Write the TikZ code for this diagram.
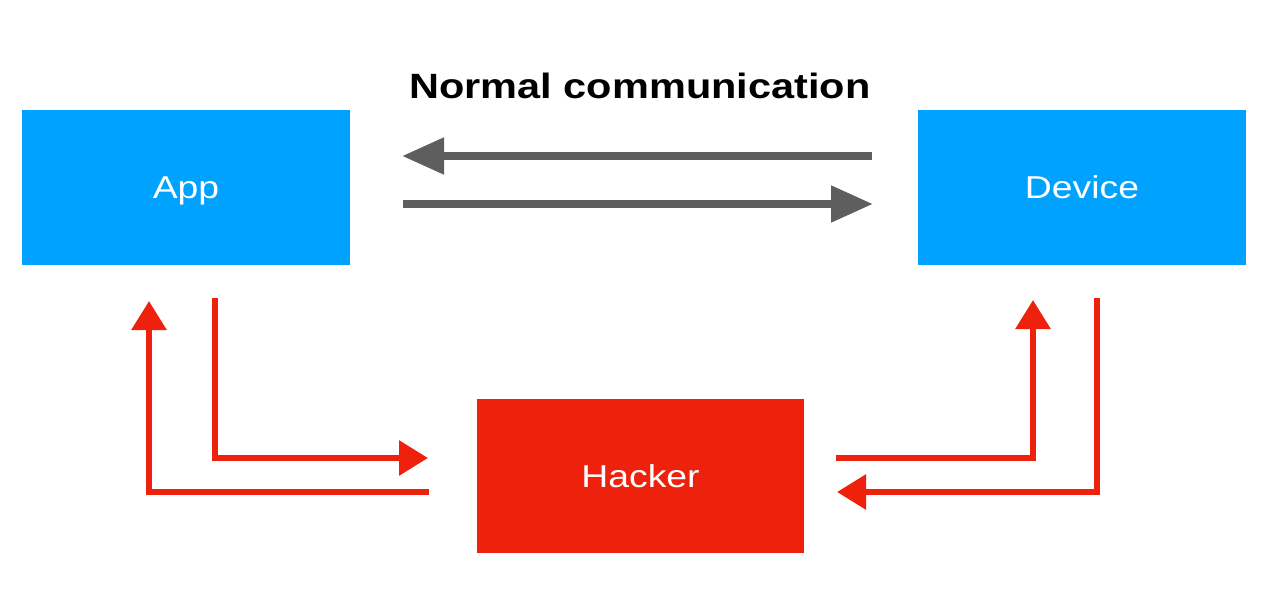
\documentclass[tikz,border=0pt]{standalone}
\usepackage{fontspec}
\setmainfont{Liberation Sans}
\newfontfamily\widesans[FakeStretch=1.18]{Liberation Sans}
\usetikzlibrary{arrows.meta}

\definecolor{appblue}{RGB}{0,162,255}
\definecolor{alarmred}{RGB}{238,34,12}
\definecolor{arrowgray}{RGB}{94,94,94}

\begin{document}
\begin{tikzpicture}[
    hostbox/.style={rectangle, fill=appblue, minimum width=3.28cm, minimum height=1.55cm, text=white, text height=6.4pt, text depth=0pt, font=\widesans\fontsize{9}{11}\selectfont},
    attacker/.style={hostbox, fill=alarmred, minimum width=3.27cm, minimum height=1.54cm},
    normalpath/.style={-{Triangle[length=4.2mm, width=3.5mm]}, arrowgray, line width=2.3pt},
    hackpath/.style={-{Triangle[length=2.9mm, width=3.4mm]}, alarmred, line width=1.7pt},
    heading/.style={text height=7.2pt, text depth=0pt, font=\widesans\bfseries\fontsize{10}{12}\selectfont},
]
\useasboundingbox (0,0) rectangle (12.88,6);

% === Endpoints ===
\node[hostbox] (app) at (1.86,4.125) {App};
\node[hostbox] (device) at (10.82,4.125) {Device};
\node[heading] (title) at (6.40,5.14) {Normal communication};

% Normal traffic (between the two boxes)
\coordinate (d2a-start) at (8.72,4.44);
\coordinate (d2a-end) at (4.02,4.44);
\coordinate (a2d-start) at (4.03,3.96);
\coordinate (a2d-end) at (8.73,3.96);
\draw[normalpath] (d2a-start) -- (d2a-end);
\draw[normalpath] (a2d-start) -- (a2d-end);

% === Man in the middle ===
\node[attacker] (hacker) at (6.405,1.24) {Hacker};

% Left side (app <-> hacker)
\coordinate (app-out) at (2.15,3.02);
\coordinate (hk-in-left) at (4.28,1.42);
\coordinate (hk-out-left) at (4.29,1.08);
\coordinate (app-in) at (1.49,2.99);
\draw[hackpath] (app-out) |- (hk-in-left);
\draw[hackpath] (hk-out-left) -| (app-in);

% Right side (hacker <-> device)
\coordinate (hk-out-right) at (8.36,1.42);
\coordinate (dev-in) at (10.33,3.00);
\coordinate (dev-out) at (10.97,3.02);
\coordinate (hk-in-right) at (8.37,1.08);
\draw[hackpath] (hk-out-right) -| (dev-in);
\draw[hackpath] (dev-out) |- (hk-in-right);

\end{tikzpicture}
\end{document}
